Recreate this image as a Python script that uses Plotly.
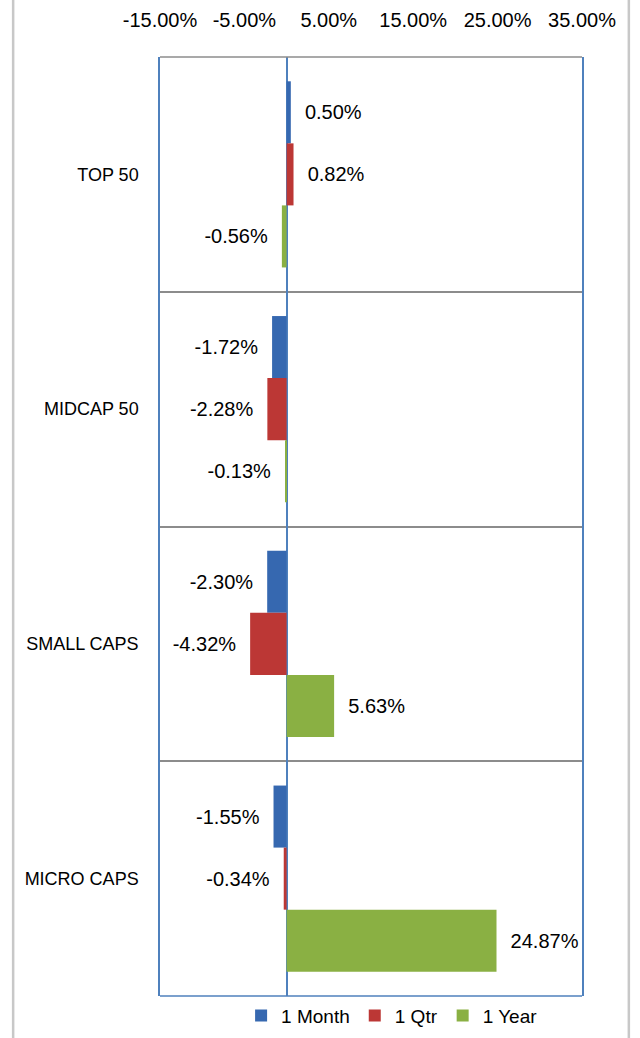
import plotly.graph_objects as go

# Index performance by size segment (returns in percent)
categories = ["TOP 50", "MIDCAP 50", "SMALL CAPS", "MICRO CAPS"]
series_names = ["1 Month", "1 Qtr", "1 Year"]
one_month = [0.50, -1.72, -2.30, -1.55]
one_qtr = [0.82, -2.28, -4.32, -0.34]
one_year = [-0.56, -0.13, 5.63, 24.87]
x_ticks = [-15, -5, 5, 15, 25, 35]

colors = ["#3668B0", "#BC3735", "#8AB043"]
FONT = "Liberation Sans"
NBSP = "\u00a0"


def label(v):
    s = f"{v:.2f}%"
    return NBSP * 2 + s if v >= 0 else s + NBSP * 2


fig = go.Figure()
for name, vals, col in zip(series_names, [one_month, one_qtr, one_year], colors):
    fig.add_trace(go.Bar(
        name=name,
        y=categories,
        x=vals,
        orientation="h",
        marker=dict(color=col, line=dict(width=0)),
        text=[label(v) for v in vals],
        textposition="outside",
        textfont=dict(family=FONT, size=20, color="#000000"),
        cliponaxis=False,
        constraintext="none",
    ))

fig.update_layout(
    width=640,
    height=1038,
    margin=dict(l=160, r=58, t=57, b=42, autoexpand=False),
    paper_bgcolor="white",
    plot_bgcolor="white",
    barmode="group",
    bargap=0.207,
    bargroupgap=0,
    font=dict(family=FONT, size=19, color="#000000"),
    showlegend=True,
    legend=dict(
        orientation="h",
        x=0.55, xanchor="center",
        y=-0.021, yanchor="middle",
        itemwidth=30,
        font=dict(family=FONT, size=19),
        traceorder="normal",
        bgcolor="rgba(0,0,0,0)",
    ),
    xaxis=dict(
        side="top",
        range=[-15, 35],
        tickvals=x_ticks,
        ticktext=[f"{t:.2f}%" for t in x_ticks],
        ticks="",
        ticklabelstandoff=25,
        showgrid=False,
        zeroline=True,
        zerolinecolor="#4F81BD",
        zerolinewidth=1.5,
        showline=False,
        tickfont=dict(family=FONT, size=20),
    ),
    yaxis=dict(
        type="category",
        categoryorder="array",
        categoryarray=categories,
        range=[3.5, -0.5],
        tickson="boundaries",
        ticks="",
        showgrid=True,
        gridcolor="#8C8C8C",
        gridwidth=1.5,
        showline=True,
        linecolor="#4F81BD",
        linewidth=1.5,
        mirror=True,
        ticklabelstandoff=16,
        tickfont=dict(family=FONT, size=18),
    ),
    shapes=[
        # top border of the plot area (grey) and bottom border (blue)
        dict(type="line", xref="x domain", yref="y domain", x0=0, x1=1, y0=1, y1=1,
             line=dict(color="#8C8C8C", width=1.5)),
        dict(type="line", xref="x domain", yref="y domain", x0=0, x1=1, y0=0, y1=0,
             line=dict(color="#4F81BD", width=1.5)),
        # chart area side rules
        dict(type="line", xref="paper", yref="paper", x0=-0.348, x1=-0.348, y0=-0.045, y1=1.061,
             line=dict(color="#C8C8C8", width=2.5)),
        dict(type="line", xref="paper", yref="paper", x0=1.111, x1=1.111, y0=-0.045, y1=1.061,
             line=dict(color="#C8C8C8", width=2.5)),
    ],
)

fig.write_html("out.html")
